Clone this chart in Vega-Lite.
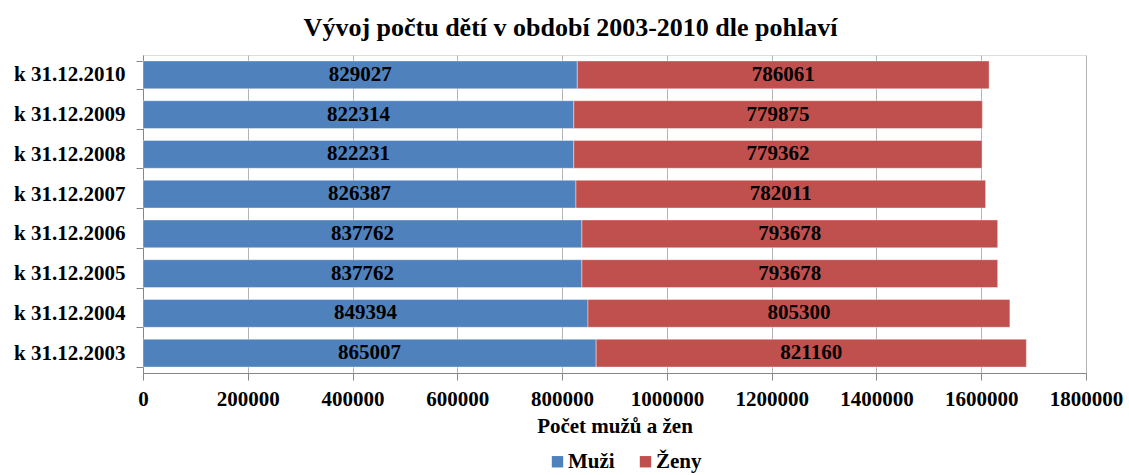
{
  "$schema": "https://vega.github.io/schema/vega-lite/v6.json",
  "width": 943,
  "height": 318,
  "autosize": {"type": "none"},
  "padding": {"left": 143, "top": 55, "right": 43, "bottom": 102},
  "background": "white",
  "title": {
    "text": "Vývoj počtu dětí v období 2003-2010 dle pohlaví",
    "font": "Liberation Serif",
    "fontSize": 26,
    "fontWeight": "bold",
    "color": "black",
    "anchor": "middle",
    "dx": -44,
    "offset": 3
  },
  "data": {
    "values": [
      {"datum": "k 31.12.2010", "pohlavi": "Muži", "pocet": 829027},
      {"datum": "k 31.12.2010", "pohlavi": "Ženy", "pocet": 786061},
      {"datum": "k 31.12.2009", "pohlavi": "Muži", "pocet": 822314},
      {"datum": "k 31.12.2009", "pohlavi": "Ženy", "pocet": 779875},
      {"datum": "k 31.12.2008", "pohlavi": "Muži", "pocet": 822231},
      {"datum": "k 31.12.2008", "pohlavi": "Ženy", "pocet": 779362},
      {"datum": "k 31.12.2007", "pohlavi": "Muži", "pocet": 826387},
      {"datum": "k 31.12.2007", "pohlavi": "Ženy", "pocet": 782011},
      {"datum": "k 31.12.2006", "pohlavi": "Muži", "pocet": 837762},
      {"datum": "k 31.12.2006", "pohlavi": "Ženy", "pocet": 793678},
      {"datum": "k 31.12.2005", "pohlavi": "Muži", "pocet": 837762},
      {"datum": "k 31.12.2005", "pohlavi": "Ženy", "pocet": 793678},
      {"datum": "k 31.12.2004", "pohlavi": "Muži", "pocet": 849394},
      {"datum": "k 31.12.2004", "pohlavi": "Ženy", "pocet": 805300},
      {"datum": "k 31.12.2003", "pohlavi": "Muži", "pocet": 865007},
      {"datum": "k 31.12.2003", "pohlavi": "Ženy", "pocet": 821160}
    ]
  },
  "encoding": {
    "y": {
      "field": "datum",
      "type": "nominal",
      "sort": null,
      "scale": {"paddingInner": 0.3, "paddingOuter": 0.15},
      "axis": {
        "title": null,
        "labelFont": "Liberation Serif",
        "labelFontSize": 21,
        "labelFontWeight": "bold",
        "labelColor": "black",
        "labelPadding": 11,
        "tickSize": 7,
        "tickBand": "extent",
        "tickColor": "#868686",
        "domainColor": "#868686",
        "grid": false
      }
    }
  },
  "layer": [
    {
      "mark": {"type": "bar", "stroke": "white", "strokeOpacity": 0.4, "strokeWidth": 1},
      "encoding": {
        "x": {
          "field": "pocet",
          "type": "quantitative",
          "stack": "zero",
          "scale": {"domain": [0, 1800000], "nice": false},
          "axis": {
            "title": "Počet mužů a žen",
            "titleFont": "Liberation Serif",
            "titleFontSize": 21,
            "titleFontWeight": "bold",
            "titleColor": "black",
            "titlePadding": 6,
            "values": [0, 200000, 400000, 600000, 800000, 1000000, 1200000, 1400000, 1600000, 1800000],
            "format": "d",
            "labelFont": "Liberation Serif",
            "labelFontSize": 21,
            "labelFontWeight": "bold",
            "labelColor": "black",
            "labelPadding": 8,
            "labelFlush": false,
            "labelOverlap": false,
            "tickSize": 7,
            "tickColor": "#868686",
            "domainColor": "#868686",
            "grid": true,
            "gridColor": "#b4b4b4"
          }
        },
        "color": {
          "field": "pohlavi",
          "type": "nominal",
          "scale": {"domain": ["Muži", "Ženy"], "range": ["#4F81BD", "#C0504D"]},
          "legend": {
            "title": null,
            "orient": "none",
            "legendX": 404,
            "legendY": 396,
            "direction": "horizontal",
            "symbolType": "square",
            "symbolSize": 130,
            "symbolStrokeWidth": 0,
            "labelFont": "Liberation Serif",
            "labelFontSize": 21,
            "labelFontWeight": "bold",
            "labelColor": "black",
            "labelOffset": 0,
            "columnPadding": 20
          }
        },
        "order": {"field": "pohlavi", "type": "nominal"}
      }
    },
    {
      "mark": {"type": "text", "font": "Liberation Serif", "fontSize": 21, "fontWeight": "bold", "color": "black", "baseline": "middle", "align": "center"},
      "encoding": {
        "x": {"field": "pocet", "type": "quantitative", "stack": "zero", "bandPosition": 0.5},
        "text": {"field": "pocet", "type": "quantitative", "format": "d"},
        "detail": {"field": "pohlavi"},
        "order": {"field": "pohlavi", "type": "nominal"}
      }
    }
  ]
}
